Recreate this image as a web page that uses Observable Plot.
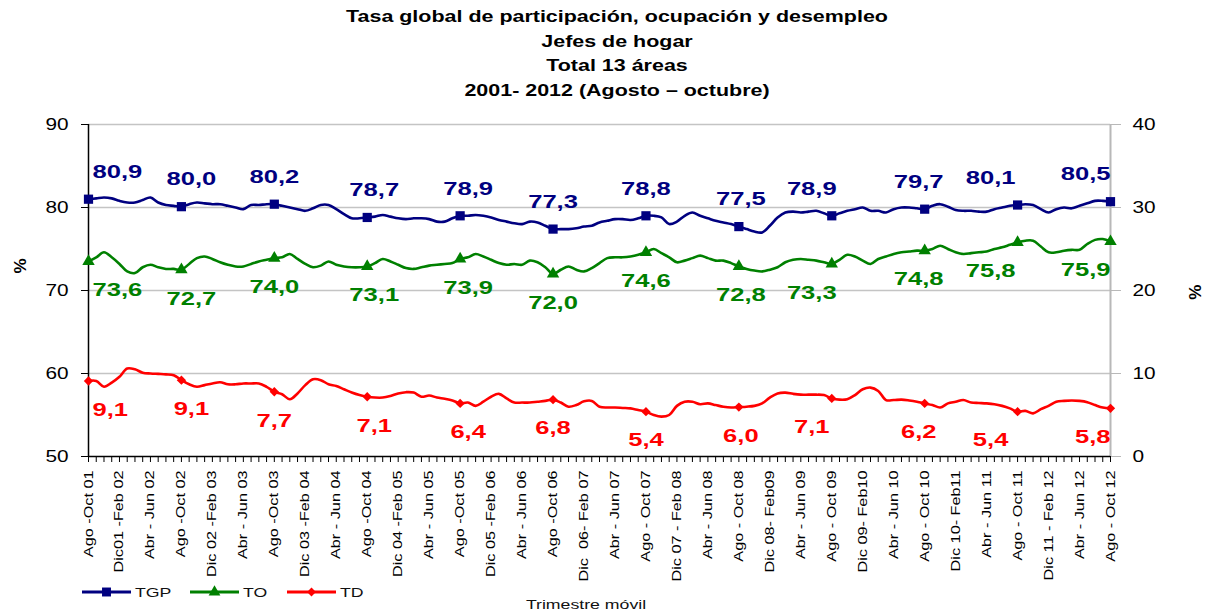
<!DOCTYPE html>
<html>
<head>
<meta charset="utf-8">
<script src="https://cdn.jsdelivr.net/npm/d3@7"></script>
<script src="https://cdn.jsdelivr.net/npm/@observablehq/plot@0.6"></script>
<style>
  html, body { margin: 0; padding: 0; background: #fff; }
  body { width: 1215px; height: 614px; position: relative; overflow: hidden; font-family: "Liberation Sans", Arial, sans-serif; }
  #title { position: absolute; left: 0; top: 4px; width: 1234px; text-align: center; font-weight: bold; font-size: 16.5px; line-height: 24.7px; color: #000; transform-origin: 617px 0; transform: scaleX(1.3); }
  #chart { position: absolute; left: 0; top: 110px; }
  #legend { position: absolute; left: 0; top: 578px; }
</style>
</head>
<body>
<div id="title">
  <div>Tasa global de participación, ocupación y desempleo</div>
  <div>Jefes de hogar</div>
  <div>Total 13 áreas</div>
  <div>2001- 2012 (Agosto – octubre)</div>
</div>
<div id="chart"></div>
<svg id="legend" width="1215" height="36"></svg>
<script>
// ---- data (monthly rolling quarters, Ago-Oct 01 ... Ago-Oct 12) ----
const tgp = [
  81.0,81.1,81.2,81.1,80.8,80.6,80.6,80.9,81.2,80.6,80.3,80.2,
  80.1,80.4,80.6,80.5,80.4,80.4,80.2,80.0,79.8,80.3,80.3,80.4,
  80.4,80.2,80.0,79.8,79.6,79.9,80.3,80.3,79.8,79.2,78.7,78.7,
  78.8,78.9,79.1,78.9,78.7,78.6,78.7,78.7,78.6,78.3,78.3,78.7,
  79.0,79.0,79.1,79.0,78.8,78.5,78.3,78.1,78.0,78.3,78.2,77.8,
  77.4,77.4,77.4,77.5,77.7,77.8,78.2,78.4,78.6,78.6,78.5,78.7,
  79.0,79.0,78.8,78.0,78.3,79.0,79.4,79.0,78.7,78.4,78.2,78.0,
  77.7,77.4,77.1,77.0,77.8,78.8,79.4,79.5,79.4,79.5,79.6,79.3,
  79.0,79.3,79.6,79.8,80.0,79.6,79.6,79.4,79.8,80.0,80.0,79.9,
  79.8,80.2,80.4,80.1,79.7,79.6,79.6,79.5,79.5,79.8,80.0,80.2,
  80.3,80.4,80.3,79.8,79.4,79.8,80.0,79.9,80.2,80.5,80.8,80.8,
  80.7
];
const to = [
  73.5,74.0,74.6,74.0,73.2,72.3,72.1,72.8,73.1,72.8,72.6,72.6,
  72.5,73.2,73.9,74.1,73.8,73.4,73.1,72.9,72.9,73.2,73.5,73.7,
  73.9,74.0,74.4,73.8,73.2,72.8,73.0,73.5,73.1,72.9,72.8,72.8,
  72.9,73.3,73.8,73.5,73.1,72.7,72.6,72.8,73.0,73.1,73.2,73.3,
  73.8,74.0,74.4,74.1,73.7,73.3,73.1,73.2,73.1,73.6,73.4,72.8,
  72.0,72.5,72.9,72.5,72.3,72.7,73.3,73.9,74.0,74.0,74.1,74.3,
  74.6,75.0,74.5,74.0,73.4,73.6,73.9,74.2,73.9,73.6,73.6,73.3,
  72.9,72.6,72.4,72.3,72.5,72.8,73.4,73.7,73.8,73.7,73.6,73.4,
  73.2,73.7,74.3,74.1,73.6,73.2,73.8,74.1,74.4,74.6,74.7,74.8,
  74.8,75.0,75.4,75.0,74.6,74.4,74.5,74.6,74.7,75.0,75.2,75.5,
  75.8,76.0,76.0,75.3,74.6,74.6,74.8,74.9,74.9,75.6,76.1,76.2,
  75.9
];
const td = [
  9.1,9.1,8.4,8.9,9.6,10.6,10.5,10.1,10.0,9.95,9.9,9.8,
  9.2,8.7,8.4,8.6,8.8,8.95,8.7,8.7,8.8,8.8,8.8,8.4,
  7.8,7.5,6.9,7.6,8.6,9.3,9.2,8.7,8.5,8.1,7.7,7.4,
  7.2,7.1,7.1,7.3,7.6,7.75,7.7,7.2,7.35,7.1,6.95,6.75,
  6.4,6.5,6.1,6.6,7.2,7.55,7.0,6.5,6.5,6.5,6.6,6.7,
  6.85,6.5,6.0,6.2,6.65,6.7,6.0,5.9,5.9,5.85,5.8,5.6,
  5.4,5.0,4.8,5.0,6.1,6.6,6.6,6.3,6.4,6.2,6.0,5.9,
  5.95,6.0,6.1,6.4,7.1,7.6,7.7,7.55,7.45,7.45,7.45,7.4,
  7.0,6.85,6.9,7.4,8.1,8.3,7.9,6.8,6.8,6.85,6.75,6.6,
  6.4,6.2,5.9,6.4,6.6,6.8,6.5,6.45,6.4,6.3,6.1,5.8,
  5.4,5.5,5.2,5.7,6.1,6.6,6.7,6.75,6.7,6.55,6.2,5.9,
  5.8
];
const tgpLabels = [80.9, 80.0, 80.2, 78.7, 78.9, 77.3, 78.8, 77.5, 78.9, 79.7, 80.1, 80.5];
const toLabels  = [73.6, 72.7, 74.0, 73.1, 73.9, 72.0, 74.6, 72.8, 73.3, 74.8, 75.8, 75.9];
const tdLabels  = [9.1, 9.1, 7.7, 7.1, 6.4, 6.8, 5.4, 6.0, 7.1, 6.2, 5.4, 5.8];
const tickLabels = [
  "Ago -Oct 01","Dic01 -Feb 02","Abr - Jun 02","Ago -Oct 02","Dic 02 -Feb 03","Abr - Jun 03",
  "Ago -Oct 03","Dic 03 -Feb 04","Abr - Jun 04","Ago -Oct 04","Dic 04 -Feb 05","Abr - Jun 05",
  "Ago -Oct 05","Dic 05 -Feb 06","Abr - Jun 06","Ago -Oct 06","Dic  06- Feb 07","Abr - Jun 07",
  "Ago - Oct 07","Dic 07 - Feb 08","Abr - Jun 08","Ago - Oct 08","Dic 08- Feb09","Abr - Jun 09",
  "Ago - Oct 09","Dic 09- Feb10","Abr - Jun 10","Ago - Oct 10","Dic 10- Feb11","Abr - Jun 11",
  "Ago - Oct 11","Dic 11 - Feb 12","Abr - Jun 12","Ago - Oct 12"
];
const leftTicks = [50, 60, 70, 80, 90];
const tdOffset = 50; // right axis (0-40) drawn on the left scale (50-90)

// ---- layout ----
const C_TGP = "#000080", C_TO = "#008000", C_TD = "#ff0000";
const labelDx = [0, 10, 0, 7, 8, 0, 0, 2, -20, -6, -27, 0];
const fmt = v => d3.format(".1f")(v).replace(".", ",");

const idx = d3.range(tgp.length);
const rows = idx.map(i => ({i, tgp: tgp[i], to: to[i], td: td[i] + tdOffset}));
const markerIdx = d3.range(0, tgp.length, 12);
const markers = markerIdx.map(i => rows[i]);

function labelMarks(key, labels, dy, color) {
  return markerIdx.map((m, k) => {
    const first = k === 0, last = k === markerIdx.length - 1;
    return Plot.text([rows[m]], {
      x: "i", y: key, text: () => fmt(labels[k]),
      dy, dx: first ? 4 : last ? 0 : labelDx[k],
      textAnchor: first ? "start" : last ? "end" : "middle",
      fill: color, fontWeight: "bold", fontSize: 18
    });
  });
}

const W = 1215, H = 480;
const chart = Plot.plot({
  width: W, height: H,
  marginLeft: 88, marginRight: 105, marginTop: 14, marginBottom: H - 14 - 332,
  style: {fontFamily: "'Liberation Sans', Arial, sans-serif", background: "#fff", overflow: "visible"},
  x: {type: "linear", domain: [0, tgp.length - 1]},
  y: {domain: [50, 90]},
  marks: [
    Plot.ruleY([60, 70, 80, 90], {stroke: "#c4c4c4", strokeWidth: 1.4}),
    Plot.axisY({anchor: "left", ticks: leftTicks, tickSize: 7, tickPadding: 13, label: null,
      fontSize: 16, stroke: "#000", fill: "#000", tickFormat: d => d}),
    Plot.axisY({anchor: "right", ticks: leftTicks, tickSize: 10, tickPadding: 12, label: null,
      fontSize: 16, stroke: "#b8b8b8", fill: "#000", tickFormat: d => d - tdOffset}),
    Plot.axisX({ticks: idx, tickSize: 6, tickFormat: () => null, label: null, stroke: "#000"}),
    Plot.axisX({ticks: d3.range(0, tgp.length, 4), tickSize: 0, tickPadding: 14, tickRotate: -90,
      tickFormat: i => tickLabels[i / 4], label: null, fontSize: 12.5, fill: "#000"}),
    Plot.ruleX([tgp.length - 1], {stroke: "#b8b8b8", strokeWidth: 2}),
    Plot.ruleX([0], {stroke: "#000", strokeWidth: 1.5}),
    Plot.ruleY([50], {stroke: "#000", strokeWidth: 1.5}),
    Plot.line(rows, {x: "i", y: "tgp", stroke: C_TGP, strokeWidth: 2.6, curve: "catmull-rom"}),
    Plot.line(rows, {x: "i", y: "to", stroke: C_TO, strokeWidth: 2.6, curve: "catmull-rom"}),
    Plot.line(rows, {x: "i", y: "td", stroke: C_TD, strokeWidth: 2.6, curve: "catmull-rom"}),
    Plot.dot(markers, {x: "i", y: "tgp", symbol: "square", r: 5.2, fill: C_TGP}),
    Plot.dot(markers, {x: "i", y: "to", symbol: "triangle", r: 4.6, fill: C_TO}),
    Plot.dot(markers, {x: "i", y: "td", symbol: "diamond2", r: 4.2, fill: C_TD}),
    ...labelMarks("tgp", tgpLabels, -27, C_TGP),
    ...labelMarks("to", toLabels, 29, C_TO),
    ...labelMarks("td", tdLabels, 29, C_TD),
    Plot.text(["%"], {frameAnchor: "left", dx: -68, dy: -17, rotate: -90, fontSize: 17, fontWeight: "bold", fill: "#000"}),
    Plot.text(["%"], {frameAnchor: "right", dx: 85, dy: -6, rotate: -90, fontSize: 17, fontWeight: "bold", fill: "#000"})
  ]
});
document.getElementById("chart").append(chart);

function stretch(root, factorFor) {
  root.querySelectorAll("text").forEach(t => {
    const s = t.textContent.trim();
    if (!s || s === "%") return;
    const L = t.getComputedTextLength();
    if (!L) return;
    t.setAttribute("textLength", (L * factorFor(t)).toFixed(1));
    t.setAttribute("lengthAdjust", "spacingAndGlyphs");
  });
}
stretch(chart, t => (t.getAttribute("font-weight") === "bold" || (t.parentNode && t.parentNode.getAttribute("font-weight") === "bold")) ? 1.42 : 1.3);

// ---- legend ----
const leg = d3.select("#legend");
const items = [
  {name: "TGP", color: C_TGP, sym: d3.symbolSquare, size: 80, x: 82},
  {name: "TO", color: C_TO, sym: d3.symbolTriangle, size: 60, x: 190},
  {name: "TD", color: C_TD, sym: d3.symbolDiamond2, size: 50, x: 287}
];
items.forEach(it => {
  leg.append("line").attr("x1", it.x).attr("x2", it.x + 49).attr("y1", 14).attr("y2", 14)
    .attr("stroke", it.color).attr("stroke-width", 3);
  leg.append("path").attr("d", d3.symbol(it.sym, it.size)()).attr("fill", it.color)
    .attr("transform", `translate(${it.x + 24.5},14)`);
  leg.append("text").attr("x", it.x + 53).attr("y", 18.5).attr("font-size", 13)
    .attr("font-family", "'Liberation Sans', Arial, sans-serif").attr("fill", "#111").text(it.name);
});
leg.append("text").attr("x", 586).attr("y", 31).attr("text-anchor", "middle").attr("font-size", 13)
  .attr("font-family", "'Liberation Sans', Arial, sans-serif").attr("fill", "#111").text("Trimestre móvil");
stretch(document.getElementById("legend"), () => 1.36);
</script>
</body>
</html>
